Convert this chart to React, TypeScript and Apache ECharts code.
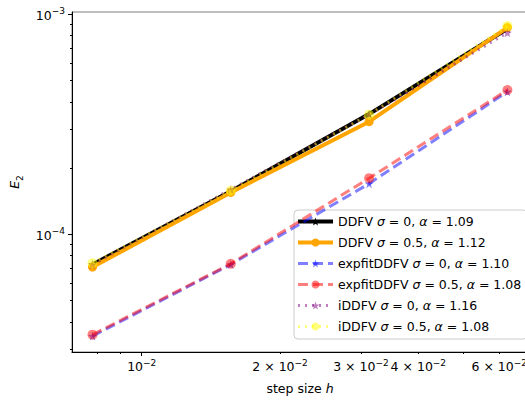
import React, { useEffect, useRef } from "react";
import * as echarts from "echarts";

const STEP_SIZES = [1 / 128, 1 / 64, 1 / 32, 1 / 16];
const DDFV_S0 = [7.3e-5, 1.57e-4, 3.52e-4, 8.6e-4];
const DDFV_S05 = [7.1e-5, 1.55e-4, 3.25e-4, 8.7e-4];
const EXPFIT_S0 = [3.45e-5, 7.3e-5, 1.7e-4, 4.45e-4];
const EXPFIT_S05 = [3.5e-5, 7.35e-5, 1.8e-4, 4.53e-4];
const IDDFV_S0 = [7.3e-5, 1.6e-4, 3.5e-4, 8.25e-4];
const IDDFV_S05 = [7.4e-5, 1.58e-4, 3.5e-4, 8.85e-4];

const SERIES_NAMES = [
  "DDFV σ = 0, α = 1.09",
  "DDFV σ = 0.5, α = 1.12",
  "expfitDDFV σ = 0, α = 1.10",
  "expfitDDFV σ = 0.5, α = 1.08",
  "iDDFV σ = 0, α = 1.16",
  "iDDFV σ = 0.5, α = 1.08",
];

const X_MIN = 0.00705;
const X_MAX = 0.0693;
const Y_MIN = 2.92e-5;
const Y_MAX = 1.0245e-3;

const X_MAJOR_TICKS = [0.01];
const X_MINOR_TICKS = [0.008, 0.009, 0.02, 0.03, 0.04, 0.05, 0.06];
const X_LABEL_TICKS = [0.01, 0.02, 0.03, 0.04, 0.06];
const X_LABEL_MANTISSA = ["", "2 × ", "3 × ", "4 × ", "6 × "];
const X_LABEL_EXP = ["−2", "−2", "−2", "−2", "−2"];

const Y_MAJOR_TICKS = [1e-4, 1e-3];
const Y_MINOR_TICKS = [3e-5, 4e-5, 5e-5, 6e-5, 7e-5, 8e-5, 9e-5, 2e-4, 3e-4, 4e-4, 5e-4, 6e-4, 7e-4, 8e-4, 9e-4];
const Y_LABEL_EXP = ["−4", "−3"];

const FONT = "DejaVu Sans";
const FS = 12.5;
const LEGEND_FS = 12.5;

const STAR =
  "path://M0,-10 L2.35,-3.24 L9.51,-3.09 L3.8,1.24 L5.88,8.09 L0,4 L-5.88,8.09 L-3.8,1.24 L-9.51,-3.09 L-2.35,-3.24 Z";

const lg = (v: number) => Math.log10(v);

function nearestIndex(arr: number[], v: number) {
  let best = 0;
  for (let i = 1; i < arr.length; i++) {
    if (Math.abs(lg(arr[i]) - v) < Math.abs(lg(arr[best]) - v)) best = i;
  }
  return best;
}

const labelRich = {
  b: { fontFamily: FONT, fontSize: FS, color: "#000", verticalAlign: "bottom", padding: [0, 0, 0, 0] },
  s: { fontFamily: FONT, fontSize: 9, color: "#000", verticalAlign: "bottom", padding: [0, 0, 6, 0] },
};

export default function App() {
  const ref = useRef<HTMLDivElement>(null);
  useEffect(() => {
    if (!ref.current) return;
    const chart = echarts.init(ref.current, null, { renderer: "svg" });
    const pairs = (ys: number[]) => STEP_SIZES.map((x, i) => [x, ys[i]]);
    const axisLineStyle = { color: "#000", width: 1 };
    const option: any = {
      animation: false,
      backgroundColor: "#fff",
      grid: {
        left: 72,
        top: 12,
        right: 2,
        bottom: 49,
        show: true,
        borderColor: "#7f7f7f",
        borderWidth: 1,
        outerBoundsMode: "none",
        containLabel: false,
      },
      xAxis: [
        { type: "log", min: X_MIN, max: X_MAX, show: false, position: "top" },
        {
          type: "value",
          position: "bottom",
          min: lg(X_MIN),
          max: lg(X_MAX),
          axisLine: { show: true, onZero: false, lineStyle: axisLineStyle },
          splitLine: { show: false },
          axisTick: { show: true, length: 4, customValues: X_MAJOR_TICKS.map(lg), lineStyle: axisLineStyle },
          axisLabel: {
            show: true,
            margin: 6,
            customValues: X_LABEL_TICKS.map(lg),
            formatter: (v: number) => {
              const i = nearestIndex(X_LABEL_TICKS, v);
              return `{b|${X_LABEL_MANTISSA[i]}10}{s|${X_LABEL_EXP[i]}}`;
            },
            rich: labelRich,
          },
          name: "{n|step size }{i|h}",
          nameLocation: "middle",
          nameGap: 30,
          nameTextStyle: {
            rich: {
              n: { fontFamily: FONT, fontSize: FS, color: "#000" },
              i: { fontFamily: FONT, fontSize: FS, color: "#000", fontStyle: "italic" },
            },
          },
        },
        {
          type: "value",
          position: "bottom",
          min: lg(X_MIN),
          max: lg(X_MAX),
          axisLine: { show: false, onZero: false },
          splitLine: { show: false },
          axisTick: { show: true, length: 2, customValues: X_MINOR_TICKS.map(lg), lineStyle: axisLineStyle },
          axisLabel: { show: false },
        },
      ],
      yAxis: [
        { type: "log", min: Y_MIN, max: Y_MAX, show: false, position: "right" },
        {
          type: "value",
          position: "left",
          min: lg(Y_MIN),
          max: lg(Y_MAX),
          axisLine: { show: true, onZero: false, lineStyle: axisLineStyle },
          splitLine: { show: false },
          axisTick: { show: true, length: 4, customValues: Y_MAJOR_TICKS.map(lg), lineStyle: axisLineStyle },
          axisLabel: {
            show: true,
            margin: 7,
            customValues: Y_MAJOR_TICKS.map(lg),
            formatter: (v: number) => {
              const i = nearestIndex(Y_MAJOR_TICKS, v);
              return `{b|10}{s|${Y_LABEL_EXP[i]}}`;
            },
            rich: labelRich,
          },
          name: "{i|E}{s|2}",
          nameLocation: "middle",
          nameGap: 43,
          nameRotate: 90,
          nameTextStyle: {
            rich: {
              i: { fontFamily: FONT, fontSize: FS, color: "#000", fontStyle: "italic", verticalAlign: "bottom", padding: [0, 0, 4, 0] },
              s: { fontFamily: FONT, fontSize: 9, color: "#000", verticalAlign: "bottom" },
            },
          },
        },
        {
          type: "value",
          position: "left",
          min: lg(Y_MIN),
          max: lg(Y_MAX),
          axisLine: { show: false, onZero: false },
          splitLine: { show: false },
          axisTick: { show: true, length: 2, customValues: Y_MINOR_TICKS.map(lg), lineStyle: axisLineStyle },
          axisLabel: { show: false },
        },
      ],
      legend: {
        orient: "vertical",
        left: 294,
        top: 210,
        padding: [5, 6, 6, 2],
        itemWidth: 35,
        itemHeight: 10,
        itemGap: 8,
        backgroundColor: "rgba(255,255,255,0.8)",
        borderColor: "#cccccc",
        borderWidth: 1,
        borderRadius: 4,
        data: SERIES_NAMES,
        lineStyle: { width: "inherit" },
        formatter: (name: string) => "{n|" + name.replace(/([σα])/g, "}{g|$1}{n|") + "}",
        textStyle: {
          fontFamily: FONT,
          fontSize: LEGEND_FS,
          color: "#000",
          rich: {
            n: { fontFamily: FONT, fontSize: LEGEND_FS, color: "#000" },
            g: { fontFamily: FONT, fontSize: LEGEND_FS, color: "#000", fontStyle: "italic" },
          },
        },
      },
      series: [
        {
          name: SERIES_NAMES[0],
          type: "line",
          xAxisIndex: 0,
          yAxisIndex: 0,
          data: pairs(DDFV_S0),
          symbol: STAR,
          symbolSize: 8,
          itemStyle: { color: "#000" },
          lineStyle: { color: "#000", width: 4 },
          z: 2,
        },
        {
          name: SERIES_NAMES[1],
          type: "line",
          xAxisIndex: 0,
          yAxisIndex: 0,
          data: pairs(DDFV_S05),
          symbol: "circle",
          symbolSize: 9,
          itemStyle: { color: "#ffa500" },
          lineStyle: { color: "#ffa500", width: 4 },
          z: 3,
        },
        {
          name: SERIES_NAMES[2],
          type: "line",
          xAxisIndex: 0,
          yAxisIndex: 0,
          data: pairs(EXPFIT_S0),
          symbol: STAR,
          symbolSize: 9,
          itemStyle: { color: "rgba(0,0,255,0.5)" },
          lineStyle: { color: "rgba(0,0,255,0.5)", width: 3, type: [10, 5] },
          z: 4,
        },
        {
          name: SERIES_NAMES[3],
          type: "line",
          xAxisIndex: 0,
          yAxisIndex: 0,
          data: pairs(EXPFIT_S05),
          symbol: "circle",
          symbolSize: 10,
          itemStyle: { color: "rgba(255,0,0,0.5)" },
          lineStyle: { color: "rgba(255,0,0,0.5)", width: 3, type: [10, 5] },
          z: 5,
        },
        {
          name: SERIES_NAMES[4],
          type: "line",
          xAxisIndex: 0,
          yAxisIndex: 0,
          data: pairs(IDDFV_S0),
          symbol: STAR,
          symbolSize: 9,
          itemStyle: { color: "rgba(128,0,128,0.5)" },
          lineStyle: { color: "rgba(128,0,128,0.5)", width: 3, type: [2, 5] },
          z: 6,
        },
        {
          name: SERIES_NAMES[5],
          type: "line",
          xAxisIndex: 0,
          yAxisIndex: 0,
          data: pairs(IDDFV_S05),
          symbol: "circle",
          symbolSize: 10,
          itemStyle: { color: "rgba(255,255,0,0.5)" },
          lineStyle: { color: "rgba(255,255,0,0.5)", width: 3, type: [2, 5] },
          z: 7,
        },
      ],
    };
    chart.setOption(option);
    return () => chart.dispose();
  }, []);
  return (
    <div style={{ position: "fixed", left: 0, top: 0, width: 525, height: 401, overflow: "hidden", background: "#fff" }}>
      <div ref={ref} style={{ width: 530, height: 401 }} />
    </div>
  );
}
